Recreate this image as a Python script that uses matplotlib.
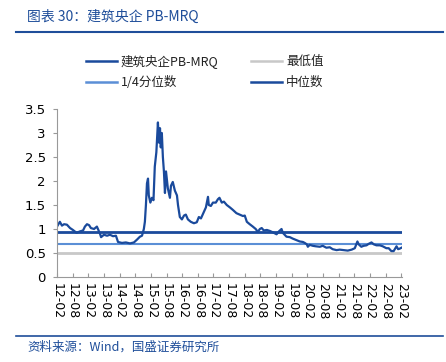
import matplotlib
matplotlib.use("Agg")
import matplotlib.pyplot as plt
from matplotlib.lines import Line2D

plt.rcParams['font.family'] = ['Noto Sans CJK SC', 'DejaVu Sans']

# months since 2012-02
months = [0, 1.1, 1.9, 2.7, 3.8, 5, 6.1, 7.5, 8.8, 10, 10.7, 11.5, 12.3, 13, 14.2, 15.3, 16.5, 16.9,
          18, 19.2, 20.3, 21.5, 22.6, 23.4, 24.9, 26.4, 28, 29.5, 30.7, 31.8, 32.6, 33.3, 33.7, 34.1,
          34.5, 34.9, 35.2, 35.8, 36.4, 37, 37.5, 38.1, 38.7, 39.1, 39.5, 39.8, 40.2, 40.6, 41, 41.4,
          41.8, 42.1, 42.5, 43.3, 43.7, 44.4, 45.2, 46, 46.4, 47.1, 47.9, 48.7, 49.4, 50.2, 51.3, 52.5,
          53.6, 54.4, 55.2, 56.3, 57.1, 57.9, 58.2, 59, 59.8, 60.9, 61.7, 62.3, 63.2, 64, 65.1, 66.3,
          67.4, 68.8, 70.1, 71.3, 72, 72.8, 73.9, 75.1, 76.2, 77, 77.8, 78.5, 79.3, 80.5, 81.6, 82.8,
          84.2, 85.1, 86.1, 86.6, 88, 89.3, 90.4, 91.8, 93.1, 94.3, 95, 95.8, 96.2, 96.9, 98.1, 99.2,
          100.8, 101.9, 103.3, 104.6, 105.7, 107.2, 108.4, 110, 111.5, 113, 114.2, 115.2, 115.7, 116.7,
          117.6, 118.7, 119.5, 120.6, 121.5, 122.5, 123.8, 124.9, 126.3, 127.2, 128.2, 129.1, 130.2,
          130.8, 131.4, 132.1]
pb = [1.05, 1.15, 1.07, 1.10, 1.09, 1.02, 0.98, 0.92, 0.95, 0.97, 1.05, 1.10, 1.08, 1.02, 1.00, 1.05, 0.90, 0.83,
      0.88, 0.86, 0.88, 0.85, 0.86, 0.73, 0.71, 0.72, 0.70, 0.72, 0.78, 0.84, 0.86, 1.00, 1.15, 1.50,
      1.95, 2.05, 1.70, 1.55, 1.65, 1.60, 2.30, 2.60, 3.22, 2.80, 3.10, 2.70, 3.00, 2.50, 2.20, 1.75,
      2.20, 2.05, 1.85, 1.65, 1.90, 1.98, 1.80, 1.70, 1.50, 1.25, 1.20, 1.28, 1.30, 1.20, 1.15, 1.12,
      1.14, 1.25, 1.22, 1.35, 1.45, 1.67, 1.50, 1.48, 1.55, 1.55, 1.62, 1.65, 1.55, 1.57, 1.50, 1.45,
      1.40, 1.33, 1.30, 1.27, 1.28, 1.15, 1.10, 1.05, 1.00, 0.94, 1.00, 1.02, 0.97, 0.98, 0.96, 0.93,
      0.89, 0.95, 1.00, 0.92, 0.84, 0.83, 0.80, 0.77, 0.74, 0.73, 0.71, 0.68, 0.63, 0.67, 0.65, 0.64,
      0.63, 0.65, 0.61, 0.62, 0.58, 0.56, 0.57, 0.56, 0.55, 0.57, 0.60, 0.74, 0.68, 0.63,
      0.65, 0.66, 0.69, 0.72, 0.68, 0.66, 0.66, 0.64, 0.60, 0.60, 0.54, 0.54, 0.64,
      0.58, 0.59, 0.61]
min_val = 0.51
q1_val = 0.68
median_val = 0.944
tick_labels = ['12-02', '12-08', '13-02', '13-08', '14-02', '14-08', '15-02', '15-08', '16-02', '16-08',
               '17-02', '17-08', '18-02', '18-08', '19-02', '19-08', '20-02', '20-08', '21-02', '21-08',
               '22-02', '22-08', '23-02']
yticks = [0, 0.5, 1, 1.5, 2, 2.5, 3, 3.5]
ytick_labels = ['0', '0.5', '1', '1.5', '2', '2.5', '3', '3.5']

W, H = 446, 362
fig = plt.figure(figsize=(W / 100, H / 100), dpi=100)
ax = fig.add_axes([57 / W, 1 - 277 / H, (402 - 57) / W, (277 - 109) / H])

dark = '#1a4a9c'
light = '#5b8fd6'
gray = '#c8c8c8'
xmax = 132.1
ax.plot([0, xmax], [min_val] * 2, color=gray, lw=2)
ax.plot([0, xmax], [q1_val] * 2, color=light, lw=1.5)
ax.plot([0, xmax], [median_val] * 2, color=dark, lw=2)
ax.plot(months, pb, color=dark, lw=1.6)

ax.set_xlim(0, 132.3)
ax.set_ylim(0, 3.5)
ax.set_xticks([6 * i for i in range(len(tick_labels))])
ax.set_xticklabels(tick_labels, rotation=-90, fontsize=9, family=['DejaVu Sans'])
ax.set_yticks(yticks)
ax.set_yticklabels(ytick_labels, fontsize=9.5, family=['DejaVu Sans'])
for s in ['top', 'right']:
    ax.spines[s].set_visible(False)
for s in ['left', 'bottom']:
    ax.spines[s].set_color('#999999')
    ax.spines[s].set_linewidth(0.8)
ax.tick_params(axis='y', direction='out', length=3, color='#999999', pad=5)
ax.tick_params(axis='x', direction='in', length=3, color='#999999', pad=4)

# title and rules
title_color = '#1f4e9a'
fig.text(27 / W, 1 - 17 / H, '图表 30：建筑央企 PB-MRQ', fontsize=10, color=title_color,
         style='italic', va='center', ha='left')
fig.add_artist(Line2D([16 / W, 443 / W], [1 - 32 / H] * 2, color=title_color, lw=1.5))
fig.add_artist(Line2D([16 / W, 443 / W], [1 - 336 / H] * 2, color=title_color, lw=1.2))
fig.text(27 / W, 1 - 347 / H, '资料来源：Wind，国盛证券研究所', fontsize=9, color=title_color,
         style='italic', va='center', ha='left')

# legend
entries = [(86, 61, dark, '建筑央企PB-MRQ'), (251, 61, gray, '最低值'),
           (86, 82, light, '1/4分位数'), (251, 82, dark, '中位数')]
for x0, y0, c, lab in entries:
    fig.add_artist(Line2D([x0 / W, (x0 + 31) / W], [1 - y0 / H] * 2, color=c, lw=1.8))
    fig.text((x0 + 35) / W, 1 - y0 / H, lab, fontsize=9, va='center', ha='left', color='#222222')

fig.savefig('out.png', dpi=100)
